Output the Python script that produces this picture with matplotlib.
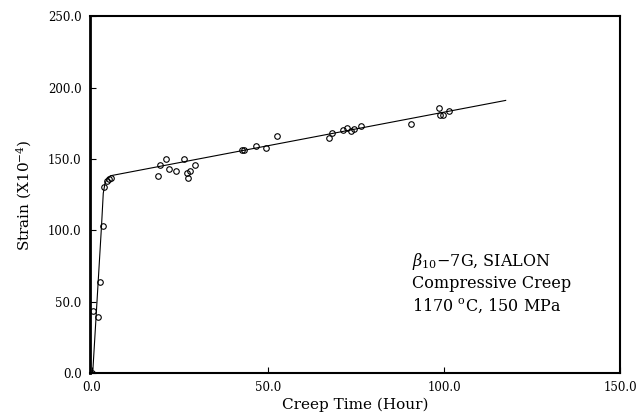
import numpy as np
import matplotlib.pyplot as plt

plt.rcParams['font.family'] = 'DejaVu Serif'
plt.rcParams['mathtext.fontset'] = 'dejavuserif'

# measured creep data (hours, strain x1e-4)
time_h = [0.0, 0.3, 1.7, 2.5, 3.1, 3.4, 4.3, 4.8, 5.4,
          18.8, 19.4, 21.0, 21.9, 23.9, 26.2, 27.0, 27.3, 27.8, 29.3,
          42.6, 43.3, 46.6, 49.4, 52.5,
          67.3, 68.2, 71.3, 72.4, 73.6, 74.4, 76.4, 90.6,
          98.6, 98.9, 99.7, 101.4]
strain = [0.0, 43.4, 39.0, 64.0, 103.0, 130.0, 134.5, 136.0, 136.6,
          138.0, 145.6, 150.0, 143.0, 141.5, 150.0, 140.0, 137.0, 141.5, 145.6,
          156.0, 156.5, 159.0, 157.6, 166.0,
          165.0, 168.0, 170.0, 171.6, 169.5, 171.0, 173.0, 174.4,
          185.5, 181.0, 181.0, 183.5]

# fitted curve
fit_t = [0.3, 2.8, 3.3, 3.8, 4.5, 5.5, 117.5]
fit_s = [0.0, 103.0, 126.0, 133.0, 136.5, 138.3, 191.0]

fig = plt.figure(figsize=(6.42, 4.15), dpi=100)
ax = fig.add_axes([0.140, 0.101, 0.826, 0.860])

ax.plot(fit_t, fit_s, color='black', lw=0.8)
ax.plot(time_h, strain, 'o', ms=4, mfc='none', mec='black', mew=0.8)

ax.set_xlim(-0.5, 150)
ax.set_ylim(0, 250)
ax.set_xticks([0, 50, 100, 150])
ax.set_yticks([0, 50, 100, 150, 200, 250])
ax.xaxis.set_major_formatter(plt.FormatStrFormatter('%.1f'))
ax.yaxis.set_major_formatter(plt.FormatStrFormatter('%.1f'))
ax.tick_params(direction='in', length=4, width=0.8, labelsize=8.5, pad=6,
               top=False, right=False)
for side, sp in ax.spines.items():
    sp.set_linewidth(2.0 if side == 'left' else 1.5)

ax.set_xlabel('Creep Time (Hour)', fontsize=11, labelpad=2)
ax.set_ylabel('Strain (X10$^{-4}$)', fontsize=11, labelpad=10)

ax.text(91, 78, r'$\beta_{10}$$-$7G, SIALON', fontsize=11.5, va='center')
ax.text(91, 62.5, 'Compressive Creep', fontsize=11.5, va='center')
ax.text(91, 47, r'1170 $^{\rm o}$C, 150 MPa', fontsize=11.5, va='center')

fig.savefig('out.png', dpi=100)
